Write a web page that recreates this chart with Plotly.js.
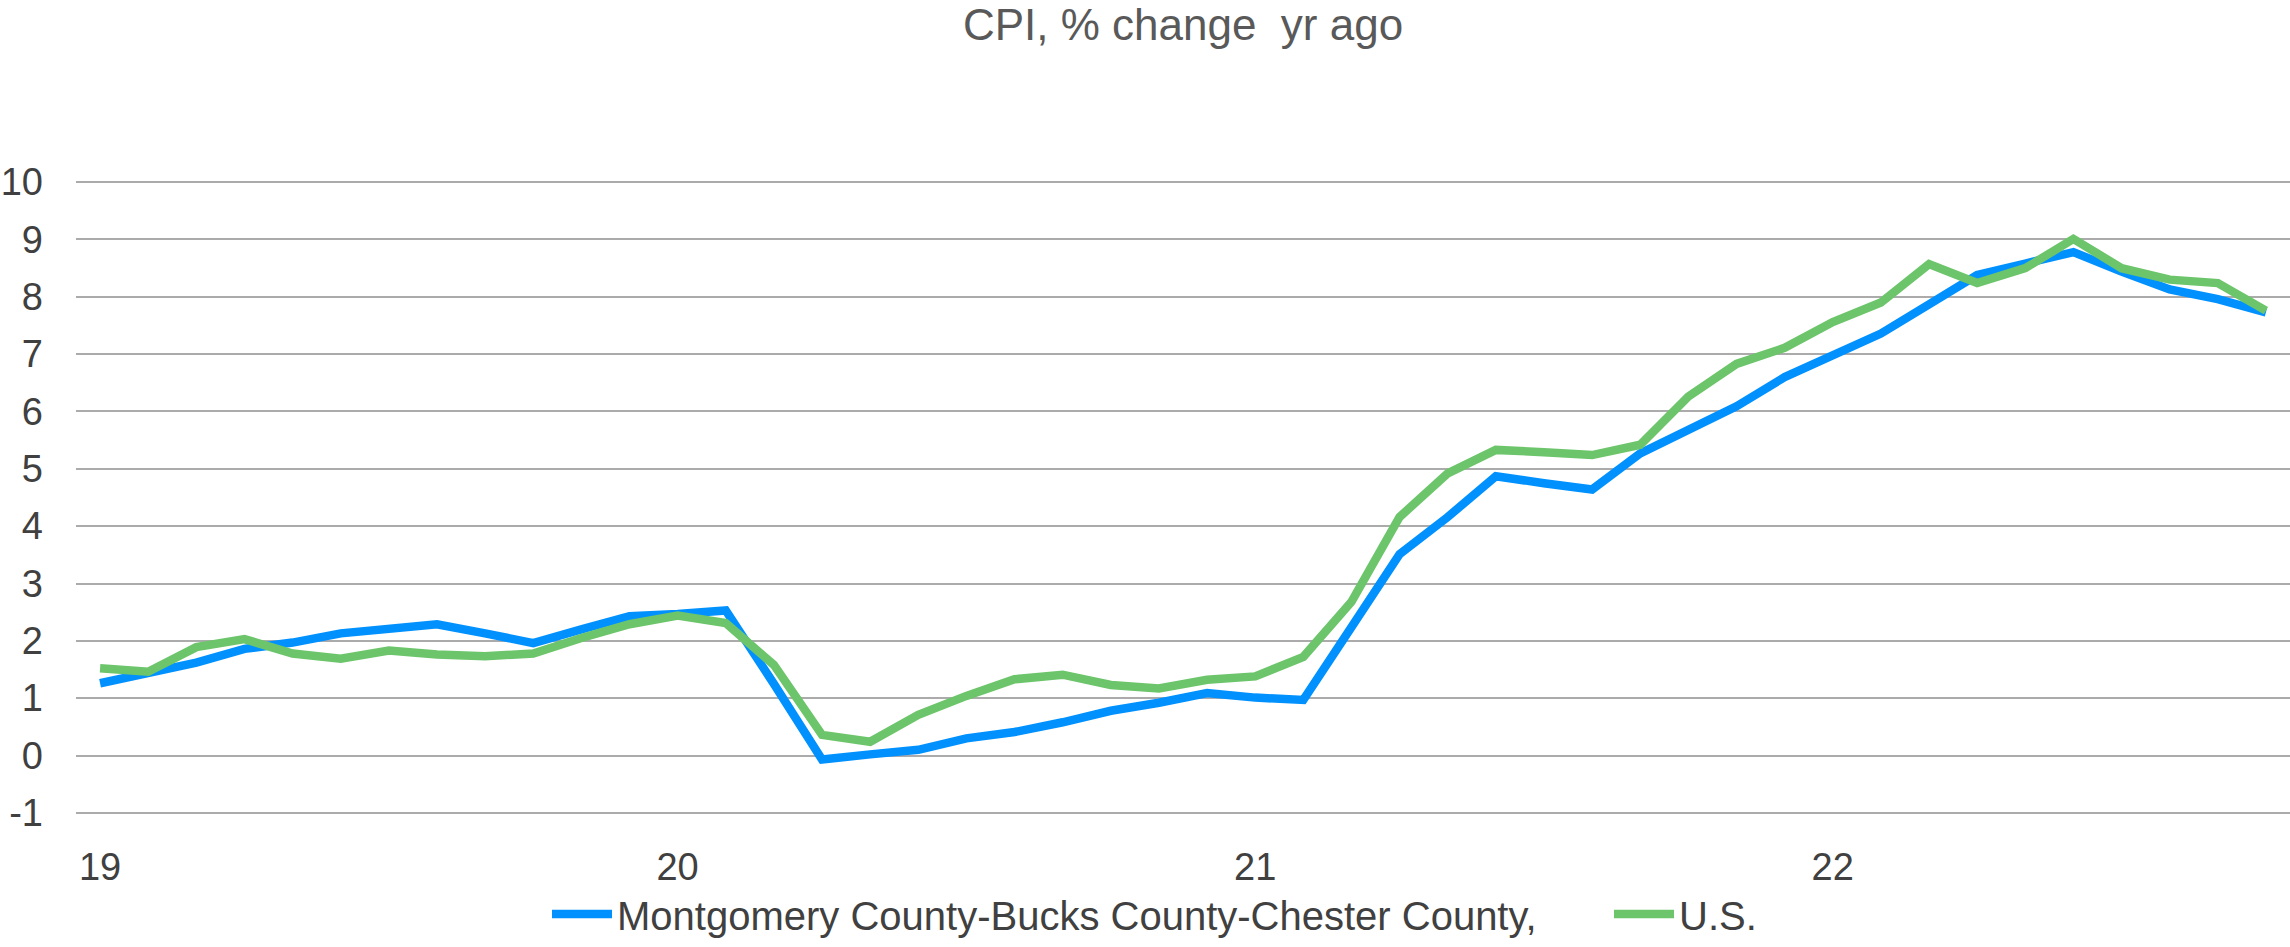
<!DOCTYPE html>
<html>
<head>
<meta charset="utf-8">
<script src="https://cdn.plot.ly/plotly-3.0.1.min.js"></script>
<style>
  html, body { margin: 0; padding: 0; background: #ffffff; }
  #chart { width: 2290px; height: 947px; }
</style>
</head>
<body>
<div id="chart"></div>
<script>
// Months: Jan 2019 .. Oct 2022
const months = [
  '2019-01','2019-02','2019-03','2019-04','2019-05','2019-06','2019-07','2019-08','2019-09','2019-10','2019-11','2019-12',
  '2020-01','2020-02','2020-03','2020-04','2020-05','2020-06','2020-07','2020-08','2020-09','2020-10','2020-11','2020-12',
  '2021-01','2021-02','2021-03','2021-04','2021-05','2021-06','2021-07','2021-08','2021-09','2021-10','2021-11','2021-12',
  '2022-01','2022-02','2022-03','2022-04','2022-05','2022-06','2022-07','2022-08','2022-09','2022-10'
];

const montgomery = [
  1.26, 1.45, 1.62, 1.86, 1.97, 2.13, 2.21, 2.29, 2.13, 1.96, 2.20, 2.43,
  2.47, 2.53, 1.25, -0.07, 0.02, 0.10, 0.30, 0.41, 0.58, 0.78, 0.92, 1.09,
  1.01, 0.97, 2.24, 3.51, 4.16, 4.87, 4.75, 4.64, 5.27, 5.69, 6.09, 6.60,
  6.97, 7.36, 7.87, 8.38, 8.58, 8.78, 8.44, 8.13, 7.96, 7.73
];

const us = [
  1.52, 1.46, 1.89, 2.03, 1.78, 1.69, 1.83, 1.76, 1.73, 1.78, 2.05, 2.29,
  2.44, 2.31, 1.58, 0.36, 0.24, 0.71, 1.04, 1.33, 1.41, 1.23, 1.17, 1.32,
  1.38, 1.72, 2.68, 4.16, 4.92, 5.33, 5.29, 5.24, 5.42, 6.26, 6.83, 7.11,
  7.56, 7.90, 8.57, 8.24, 8.50, 9.01, 8.50, 8.30, 8.24, 7.76
];

const xTickVals = ['2019-01','2020-01','2021-01','2022-01'];
const xTickText = ['19','20','21','22'];
const yTickVals = [-1,0,1,2,3,4,5,6,7,8,9,10];
const yTickText = ['-1','0','1','2','3','4','5','6','7','8','9','10'];

const seriesNames = ['Montgomery County-Bucks County-Chester County,', 'U.S.'];

const FONT = '"Liberation Sans", Arial, sans-serif';

const traces = [
  {
    x: months, y: montgomery, type: 'scatter', mode: 'lines',
    name: seriesNames[0],
    legend: 'legend',
    line: { color: '#0091FF', width: 8.5 }
  },
  {
    x: months, y: us, type: 'scatter', mode: 'lines',
    name: seriesNames[1],
    legend: 'legend2',
    line: { color: '#6CC56A', width: 8.5 }
  }
];

const legendCommon = {
  orientation: 'h',
  xanchor: 'left',
  y: -0.158, yanchor: 'middle',
  font: { family: FONT, size: 40, color: '#404040' },
  bgcolor: 'rgba(0,0,0,0)',
  itemwidth: 60
};

const layout = {
  width: 2290,
  height: 947,
  paper_bgcolor: '#ffffff',
  plot_bgcolor: '#ffffff',
  margin: { l: 76, r: 0, t: 181, b: 117, pad: 0 },
  font: { family: FONT, color: '#404040', size: 38 },
  title: {
    text: 'CPI, % change  yr ago',
    font: { family: FONT, size: 44, color: '#595959' },
    x: 0.5, xref: 'paper', xanchor: 'center',
    y: 1 - 25/947, yref: 'container', yanchor: 'middle'
  },
  xaxis: {
    type: 'category',
    range: [-0.5, months.length - 0.5],
    tickmode: 'array',
    tickvals: xTickVals,
    ticktext: xTickText,
    showgrid: false,
    zeroline: false,
    showline: false,
    ticks: '',
    ticklabelstandoff: 27,
    tickfont: { family: FONT, size: 38, color: '#404040' },
    fixedrange: true
  },
  yaxis: {
    range: [-1.02, 10.02],
    tickmode: 'array',
    tickvals: yTickVals,
    ticktext: yTickText,
    showgrid: true,
    gridcolor: '#ABABAB',
    gridwidth: 2,
    zeroline: false,
    showline: false,
    ticks: '',
    ticklabelstandoff: 32,
    tickfont: { family: FONT, size: 38, color: '#404040' },
    fixedrange: true
  },
  showlegend: true,
  legend: Object.assign({}, legendCommon, { x: (547 - 76) / 2214 }),
  legend2: Object.assign({}, legendCommon, { x: (1609 - 76) / 2214 }),
  hovermode: false
};

Plotly.newPlot('chart', traces, layout, { displayModeBar: false, staticPlot: true });
</script>
</body>
</html>
